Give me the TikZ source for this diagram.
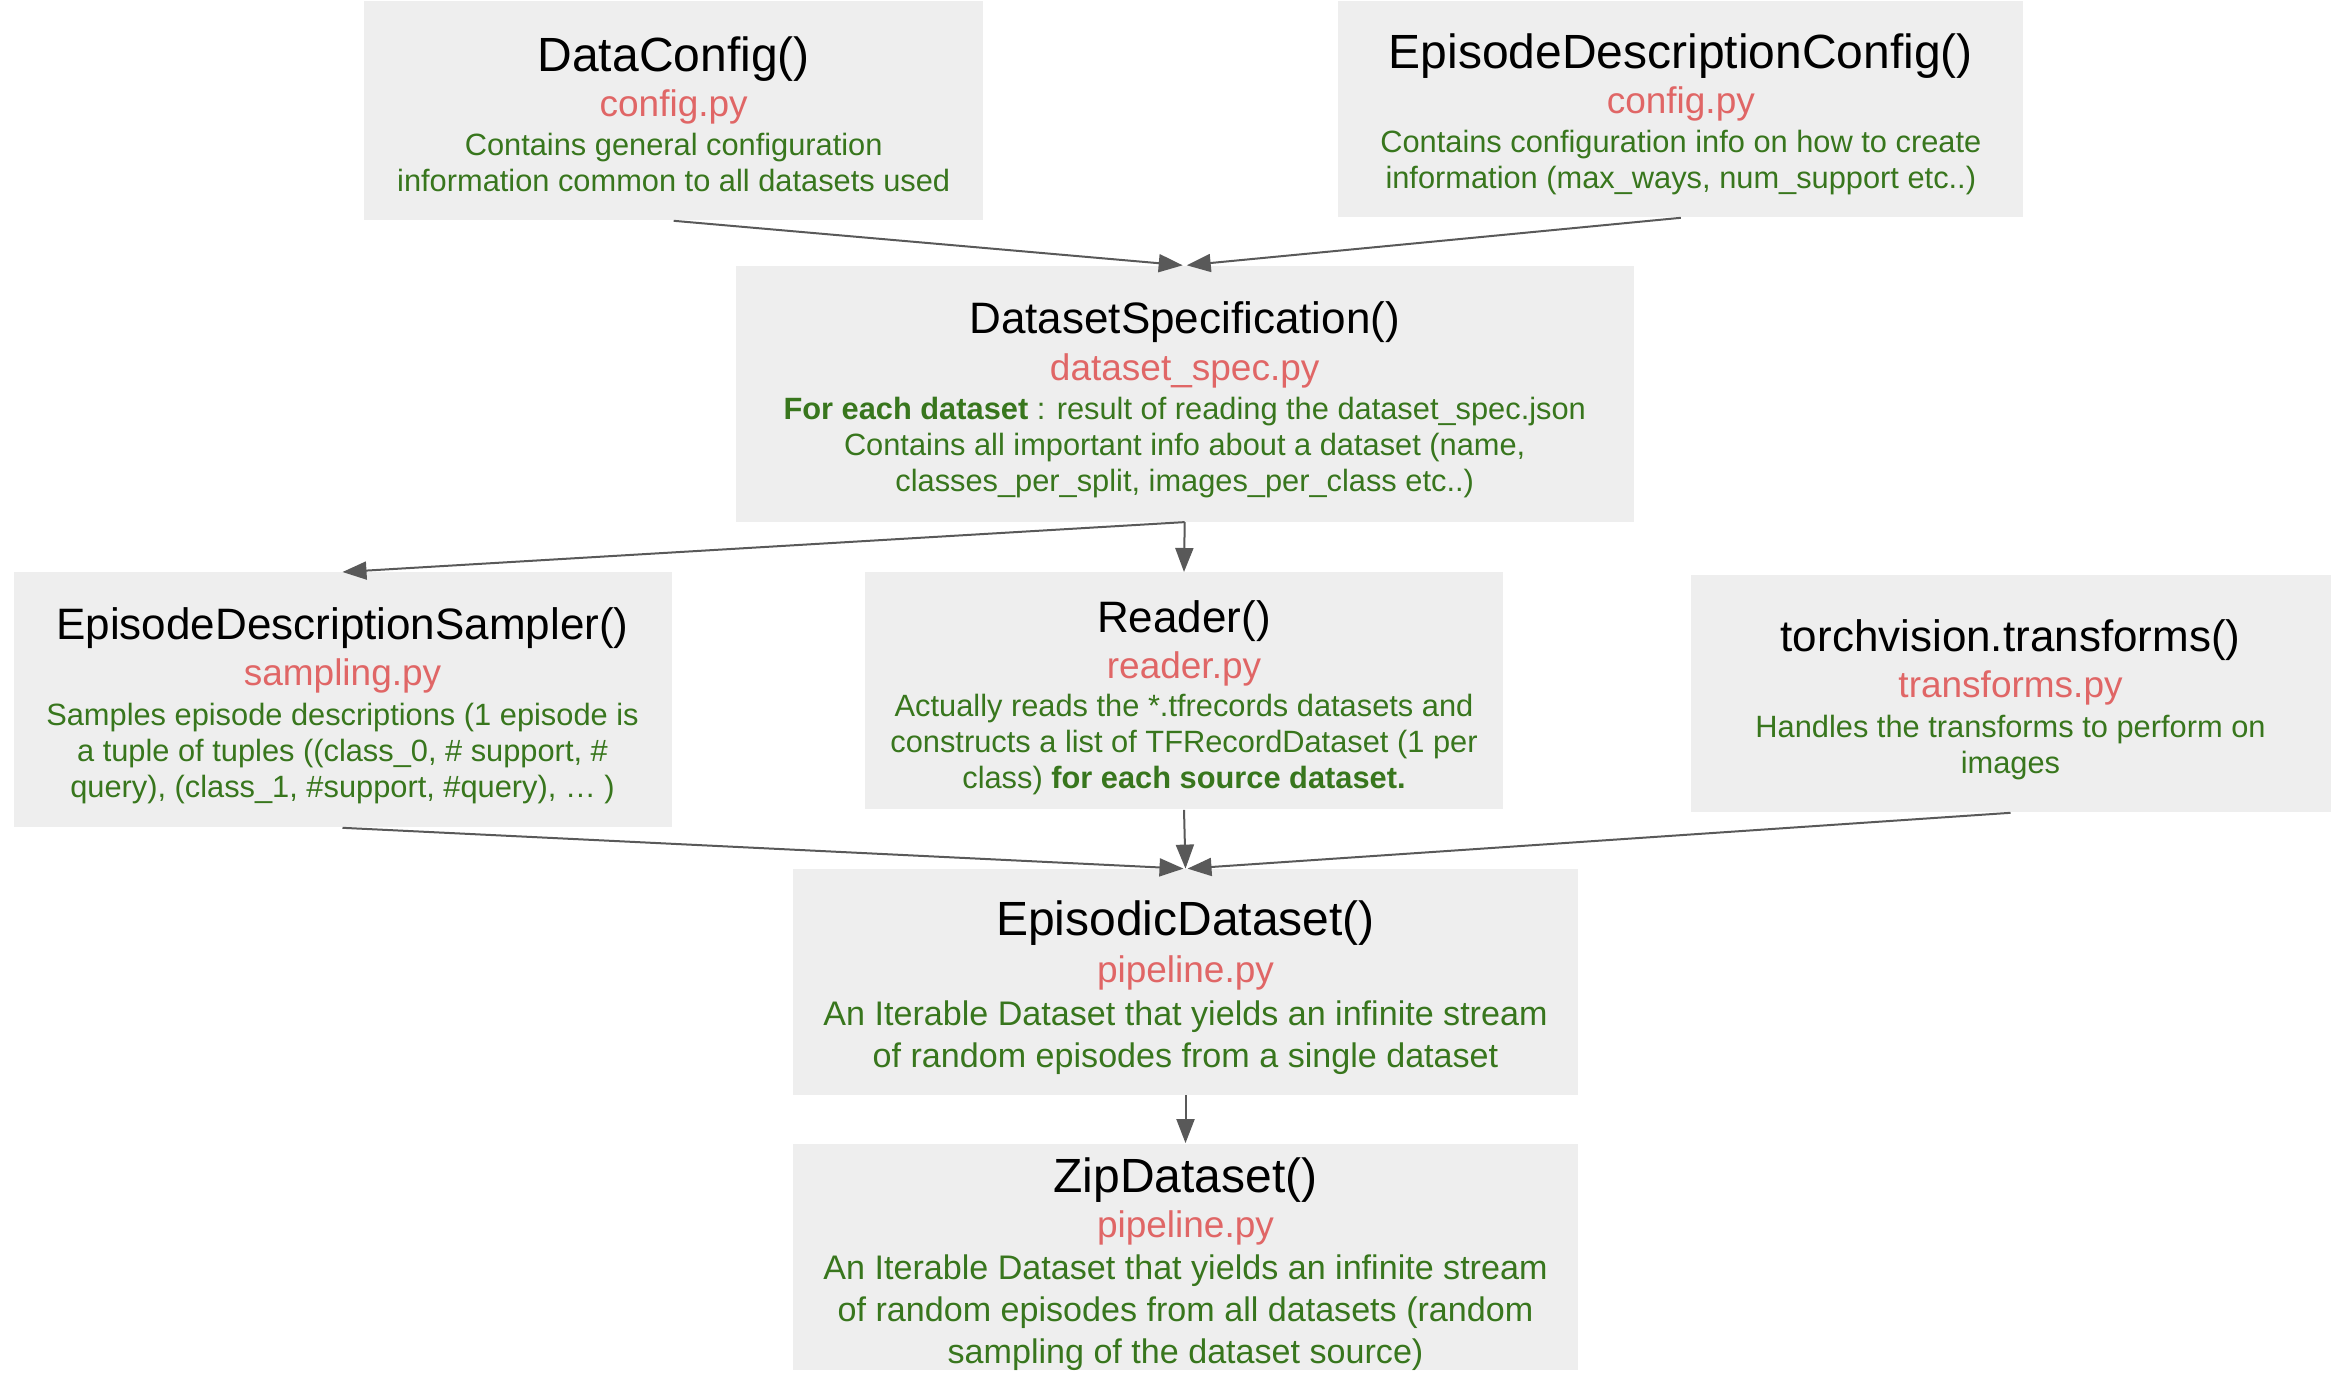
\documentclass[tikz,border=0pt]{standalone}
\usepackage{fontspec}
\setmainfont{Liberation Sans}
\usetikzlibrary{arrows.meta}
\definecolor{boxgrey}{HTML}{EEEEEE}
\definecolor{filered}{HTML}{E06666}
\definecolor{descgreen}{HTML}{38761D}
\definecolor{arrowgrey}{HTML}{595959}
\tikzset{
  box/.style={rectangle, fill=boxgrey, draw=none, inner sep=0pt},
  ttlbig/.style={anchor=base, inner sep=0pt, text=black, font=\fontsize{24}{28}\selectfont},
  ttlmid/.style={anchor=base, inner sep=0pt, text=black, font=\fontsize{22}{26}\selectfont},
  fname/.style={anchor=base, inner sep=0pt, text=filered, font=\fontsize{18.5}{22}\selectfont},
  dsmall/.style={anchor=base, inner sep=0pt, text=descgreen, align=center, font=\fontsize{15.4}{18}\selectfont},
  dlarge/.style={anchor=base, inner sep=0pt, text=descgreen, align=center, font=\fontsize{17.05}{21}\selectfont},
  conn/.style={draw=arrowgrey, line width=1pt, -{Triangle[length=12pt,width=9pt]}, arrowgrey}
}
\begin{document}
\begin{tikzpicture}[x=0.5pt,y=-0.5pt]
\useasboundingbox (0,0) rectangle (2350,1376);

% boxes
\node[box, minimum width=309.5pt, minimum height=109.5pt] (dc) at (673.7,110.9) {};
\node[box, minimum width=342.5pt, minimum height=108pt] (edc) at (1680.8,109.4) {};
\node[box, minimum width=449pt, minimum height=128pt] (ds) at (1184.7,393.7) {};
\node[box, minimum width=329pt, minimum height=127.5pt] (eds) at (342.5,699.9) {};
\node[box, minimum width=319.25pt, minimum height=118.5pt] (rd) at (1184,690.9) {};
\node[box, minimum width=320pt, minimum height=118.5pt] (tv) at (2010.5,693.9) {};
\node[box, minimum width=392.5pt, minimum height=113pt] (ep) at (1185.5,982) {};
\node[box, minimum width=392.5pt, minimum height=113pt] (zip) at (1185.5,1256.5) {};

% DataConfig (description anchored at the baseline of its last line)
\node[ttlbig] (dc-t) at (673.7,71) {DataConfig()};
\node[fname] (dc-f) at (673.7,116) {config.py};
\node[dsmall] (dc-d) at (673.7,191.5) {Contains general configuration\\information common to all datasets used};

% EpisodeDescriptionConfig
\node[ttlbig] (edc-t) at (1680.8,68) {EpisodeDescriptionConfig()};
\node[fname] (edc-f) at (1680.8,113) {config.py};
\node[dsmall] (edc-d) at (1680.8,188.5) {Contains configuration info on how to create\\information (max\_ways, num\_support etc..)};

% DatasetSpecification
\node[ttlmid] (ds-t) at (1184.7,333.5) {DatasetSpecification()};
\node[fname] (ds-f) at (1184.7,380) {dataset\_spec.py};
\node[dsmall] (ds-d) at (1184.7,491.5) {\textbf{For each dataset} : result of reading the dataset\_spec.json\\Contains all important info about a dataset (name,\\classes\_per\_split, images\_per\_class etc..)};

% EpisodeDescriptionSampler
\node[ttlmid] (eds-t) at (342.5,639.5) {EpisodeDescriptionSampler()};
\node[fname] (eds-f) at (342.5,685.5) {sampling.py};
\node[dsmall] (eds-d) at (342.5,797.5) {Samples episode descriptions (1 episode is\\a tuple of tuples ((class\_0, \# support, \#\\query), (class\_1, \#support, \#query), … )};

% Reader
\node[ttlmid] (rd-t) at (1184,632) {Reader()};
\node[fname] (rd-f) at (1184,678) {reader.py};
\node[dsmall] (rd-d) at (1184,788.5) {Actually reads the *.tfrecords datasets and\\constructs a list of TFRecordDataset (1 per\\class) \textbf{for each source dataset.}};

% torchvision.transforms
\node[ttlmid] (tv-t) at (2010.5,651.4) {torchvision.transforms()};
\node[fname] (tv-f) at (2010.5,697.5) {transforms.py};
\node[dsmall] (tv-d) at (2010.5,773.5) {Handles the transforms to perform on\\images};

% EpisodicDataset
\node[ttlbig] (ep-t) at (1185.5,935.7) {EpisodicDataset()};
\node[fname] (ep-f) at (1185.5,982) {pipeline.py};
\node[dlarge] (ep-d) at (1185.5,1067) {An Iterable Dataset that yields an infinite stream\\of random episodes from a single dataset};

% ZipDataset
\node[ttlbig] (zip-t) at (1185.5,1192) {ZipDataset()};
\node[fname] (zip-f) at (1185.5,1237) {pipeline.py};
\node[dlarge] (zip-d) at (1185.5,1363) {An Iterable Dataset that yields an infinite stream\\of random episodes from all datasets (random\\sampling of the dataset source)};

% connectors
\draw[conn] (dc.south) -- ([xshift=-1pt]ds.north);
\draw[conn] (edc.south) -- ([xshift=1pt]ds.north);
\draw[conn] (ds.south) -- (eds.north);
\draw[conn] (ds.south) -- (rd.north);
\draw[conn] (eds.south) -- ([xshift=-1pt]ep.north);
\draw[conn] (rd.south) -- (ep.north);
\draw[conn] (tv.south) -- ([xshift=1pt]ep.north);
\draw[conn] (ep.south) -- (zip.north);
\end{tikzpicture}
\end{document}
